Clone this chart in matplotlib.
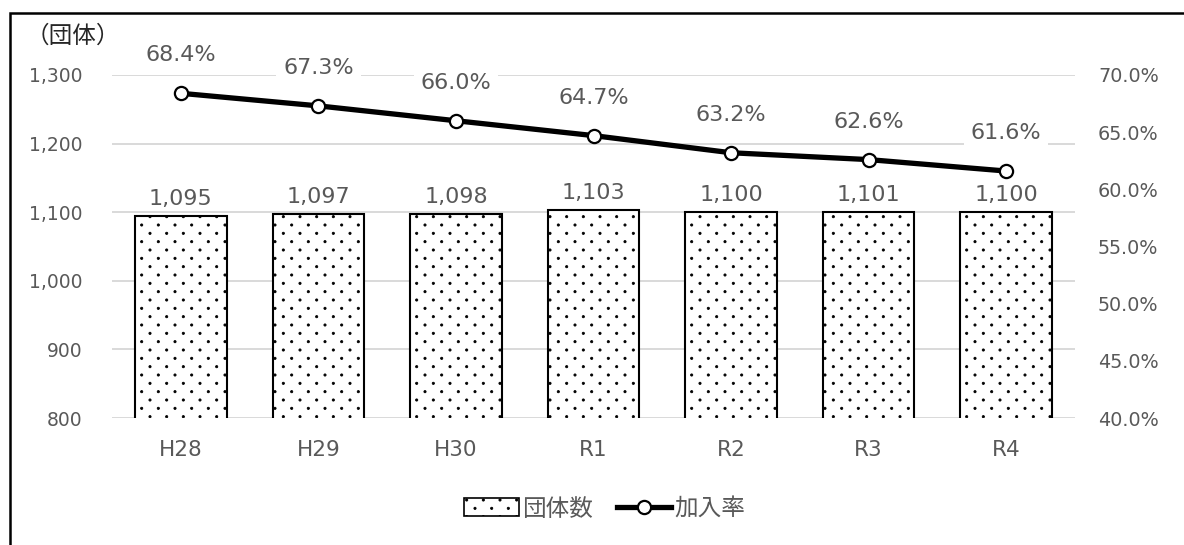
import matplotlib
matplotlib.use("Agg")
import numpy as np
import matplotlib.pyplot as plt
import matplotlib.hatch as mhatch
from matplotlib.path import Path
from matplotlib.patches import Rectangle, Patch
from matplotlib.lines import Line2D
from matplotlib.ticker import FuncFormatter
import matplotlib as mpl

plt.rcParams['font.family'] = ['DejaVu Sans', 'Noto Sans CJK JP']
mpl.rcParams['hatch.linewidth'] = 0.6

categories = ["H28", "H29", "H30", "R1", "R2", "R3", "R4"]
groups = [1095, 1097, 1098, 1103, 1100, 1101, 1100]
rates = [68.4, 67.3, 66.0, 64.7, 63.2, 62.6, 61.6]

gray = "#595959"
grid_c = "#d9d9d9"
cjk = ['Noto Sans CJK JP', 'DejaVu Sans']


class StaggeredDots(mhatch.HatchPatternBase):
    """Small filled dots: columns 1/6 inch apart, rows 1/12 inch apart,
    every other row shifted by half a column."""

    def __init__(self, hatch, density):
        ncols = hatch.count('.') * density
        self.centers = []
        if ncols:
            nrows = 2 * ncols
            for row in range(nrows + 1):
                y = row / nrows
                if row % 2 == 0:
                    xs = np.linspace(0, 1, ncols + 1)
                else:
                    xs = np.linspace(0.5 / ncols, 1 - 0.5 / ncols, ncols)
                self.centers.extend((xx, y) for xx in xs)
        circle = Path.unit_circle()
        self.shape_vertices = circle.vertices * 0.011
        self.shape_codes = circle.codes
        self.num_vertices = len(self.centers) * len(self.shape_vertices)

    def set_vertices_and_codes(self, vertices, codes):
        n = len(self.shape_vertices)
        cursor = 0
        for cx, cy in self.centers:
            vertices[cursor:cursor + n] = self.shape_vertices + (cx, cy)
            codes[cursor:cursor + n] = self.shape_codes
            cursor += n


mhatch._hatch_types = [StaggeredDots if t is mhatch.SmallFilledCircles else t
                       for t in mhatch._hatch_types]

fig = plt.figure(figsize=(11.84, 5.45), dpi=100)
ax = fig.add_axes([112 / 1184, 1 - 418 / 545, 963 / 1184, 343 / 545])
ax2 = ax.twinx()

x = list(range(len(categories)))
ax.bar(x, groups, width=0.665, color="white", edgecolor="black",
       linewidth=1.5, hatch=".", zorder=3)
ax.set_ylim(800, 1300)
ax.set_xlim(-0.5, len(categories) - 0.5)
ax.set_yticks(range(800, 1301, 100))
ax.yaxis.set_major_formatter(FuncFormatter(lambda v, p: f"{int(v):,}"))
ax.grid(axis="y", color=grid_c, linewidth=1.4, zorder=0)
ax.set_xticks(x)
ax.set_xticklabels(categories)
ax.tick_params(axis="y", length=0, colors=gray, labelsize=13.5, pad=21)
ax.tick_params(axis="x", length=0, colors=gray, labelsize=15.5, pad=16)
for s in ax.spines.values():
    s.set_visible(False)

# count labels above the bars
for xi, v in zip(x, groups):
    ax.text(xi, v + 16, f"{v:,}", ha="center", va="baseline", fontsize=16,
            color=gray, zorder=5,
            bbox=dict(facecolor="white", edgecolor="none", pad=2))

ax2.plot(x, rates, color="black", linewidth=3.8, marker="o", markersize=9.5,
         markerfacecolor="white", markeredgecolor="black", markeredgewidth=1.6,
         zorder=4)
ax2.set_ylim(40, 70)
ax2.set_yticks(range(40, 71, 5))
ax2.yaxis.set_major_formatter(FuncFormatter(lambda v, p: f"{v:.1f}%"))
ax2.tick_params(axis="y", length=0, colors=gray, labelsize=13.8, pad=16.5)
for s in ax2.spines.values():
    s.set_visible(False)

# rate labels above the line points
for xi, r in zip(x, rates):
    ax2.text(xi, r + 2.8, f"{r:.1f}%", ha="center", va="baseline", fontsize=16,
             color=gray, zorder=5,
             bbox=dict(facecolor="white", edgecolor="none", pad=5))

fig.text(26 / 1184, 1 - 36 / 545, "（団体）", ha="left", va="center",
         fontsize=17, color="#262626", family=cjk)

handles = [Patch(facecolor="white", edgecolor="black", hatch=".", linewidth=1.2),
           Line2D([0], [0], color="black", linewidth=3.8, marker="o",
                  markersize=9.5, markerfacecolor="white",
                  markeredgecolor="black", markeredgewidth=1.6)]
leg = fig.legend(handles, ["団体数", "加入率"], loc="center",
                 bbox_to_anchor=(605 / 1184, 1 - 509 / 545), ncol=2,
                 frameon=False, handlelength=2.3, handleheight=0.8,
                 columnspacing=1.0, handletextpad=0.15,
                 prop={'family': cjk, 'size': 17})
for t in leg.get_texts():
    t.set_color(gray)

# outer chart border (left and top edges fall inside the canvas)
fig.patches.append(Rectangle((9.5 / 1184, -0.1), 1.2, 1 - 13 / 545 + 0.1,
                             transform=fig.transFigure, fill=False,
                             edgecolor="black", linewidth=1.8))

fig.savefig("out.png", dpi=100)
